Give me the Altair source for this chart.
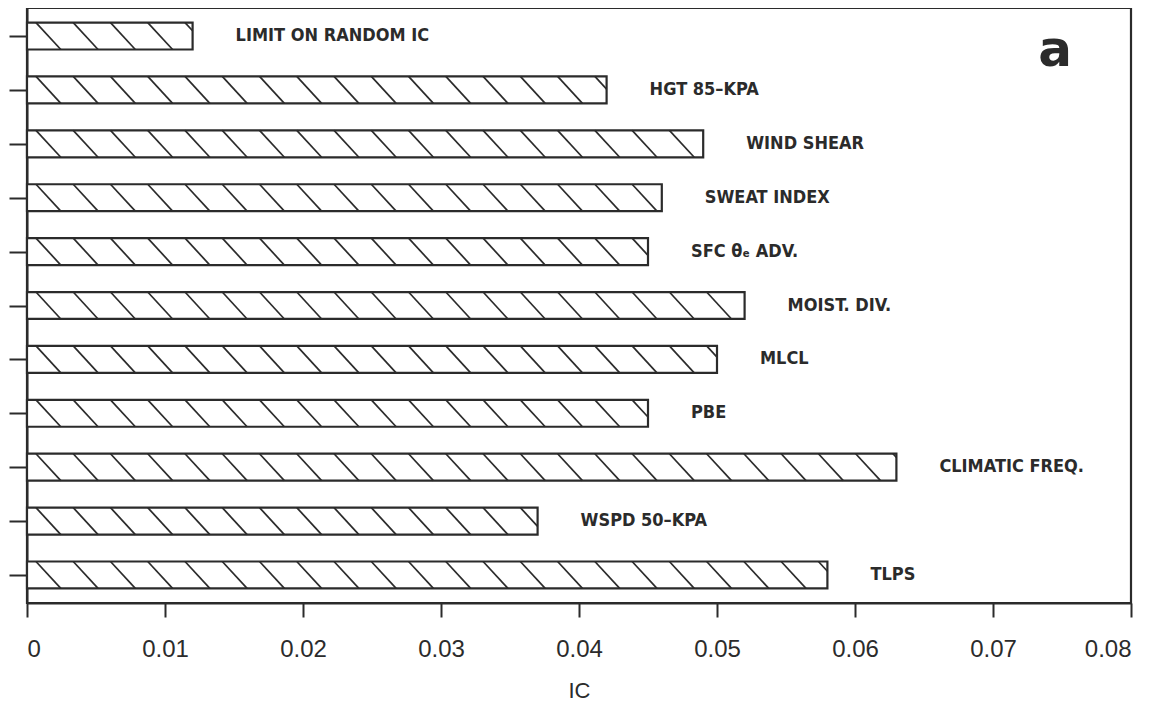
import altair as alt
import pandas as pd

# Data (top to bottom)
labels = ["LIMIT ON RANDOM IC", "HGT 85\u2013KPA", "WIND SHEAR", "SWEAT INDEX",
          "SFC \u03b8\u2091 ADV.", "MOIST. DIV.", "MLCL", "PBE",
          "CLIMATIC FREQ.", "WSPD 50\u2013KPA", "TLPS"]
values = [0.012, 0.042, 0.049, 0.046, 0.045, 0.052, 0.050, 0.045, 0.063, 0.037, 0.058]
x_ticks = [0.0, 0.01, 0.02, 0.03, 0.04, 0.05, 0.06, 0.07, 0.08]
panel_label = ["a"]

n = len(labels)
df = pd.DataFrame({
    "label": labels,
    "value": values,
    "row": [n - 1 - i for i in range(n)],
})

HALF = 0.25        # half bar thickness in row units
HSTEP = 0.0027     # hatch spacing (data units)
HRUN = 0.0018      # horizontal run of one hatch line
HSTART = 0.00065
INK = "#2b2b2b"

x_scale = alt.Scale(domain=[0, 0.08], nice=False, zero=True)
y_scale = alt.Scale(domain=[-0.52, n - 1 + 0.52], nice=False, zero=False)

x_axis = alt.Axis(values=x_ticks, labelExpr="datum.value == 0 ? '0' : format(datum.value, '.2f')",
                  tickSize=14, tickWidth=2, tickColor=INK, domainColor=INK, domainWidth=2,
                  labelFontSize=24, labelFont="Liberation Sans", labelColor=INK, labelPadding=20,
                  grid=False, title="IC", titleFontSize=22, titleFont="Liberation Sans",
                  titleFontWeight="normal", titleColor=INK, titlePadding=19)
y_axis = alt.Axis(values=list(range(n)), labels=False, tickSize=18, tickWidth=2, tickColor=INK,
                  domainColor=INK, domainWidth=2, grid=False, title=None)

base = alt.Chart(df)

bars = base.transform_calculate(
    y0="datum.row - %f" % HALF, y1="datum.row + %f" % HALF, x0="0"
).mark_rect(fill="white", stroke=INK, strokeWidth=2.2).encode(
    x=alt.X("x0:Q", scale=x_scale, axis=x_axis),
    x2="value:Q",
    y=alt.Y("y0:Q", scale=y_scale, axis=y_axis),
    y2="y1:Q",
)

hatch = base.transform_calculate(
    h="sequence(%f, datum.value, %f)" % (HSTART, HSTEP)
).transform_flatten(["h"]).transform_calculate(
    hx2="min(datum.h + %f, datum.value)" % HRUN,
).transform_calculate(
    hy="datum.row + %f" % HALF,
    hy2="datum.row + %f - (datum.hx2 - datum.h) / %f * %f" % (HALF, HRUN, 2 * HALF),
).mark_rule(color=INK, strokeWidth=1.7).encode(
    x=alt.X("h:Q", scale=x_scale),
    x2="hx2:Q",
    y=alt.Y("hy:Q", scale=y_scale),
    y2="hy2:Q",
)

text = base.mark_text(align="left", baseline="middle", dx=43, fontSize=18,
                      font="DejaVu Sans Condensed, Liberation Sans", fontWeight="bold",
                      color=INK).encode(
    x=alt.X("value:Q", scale=x_scale),
    y=alt.Y("row:Q", scale=y_scale),
    text="label:N",
)

panel = alt.Chart(pd.DataFrame({"t": panel_label, "px": [0.0745], "py": [9.73]})).mark_text(
    fontSize=50, font="DejaVu Sans", fontWeight="bold", color=INK, baseline="middle", align="center"
).encode(
    x=alt.X("px:Q", scale=x_scale),
    y=alt.Y("py:Q", scale=y_scale),
    text="t:N",
)

chart = alt.layer(bars, hatch, text, panel).properties(
    width=1104, height=595,
    padding={"left": 0, "top": 0, "right": 20, "bottom": 0},
    background="white",
).configure_view(stroke=INK, strokeWidth=2.2)

chart.save("out.html", embed_options={"renderer": "svg", "actions": False})
